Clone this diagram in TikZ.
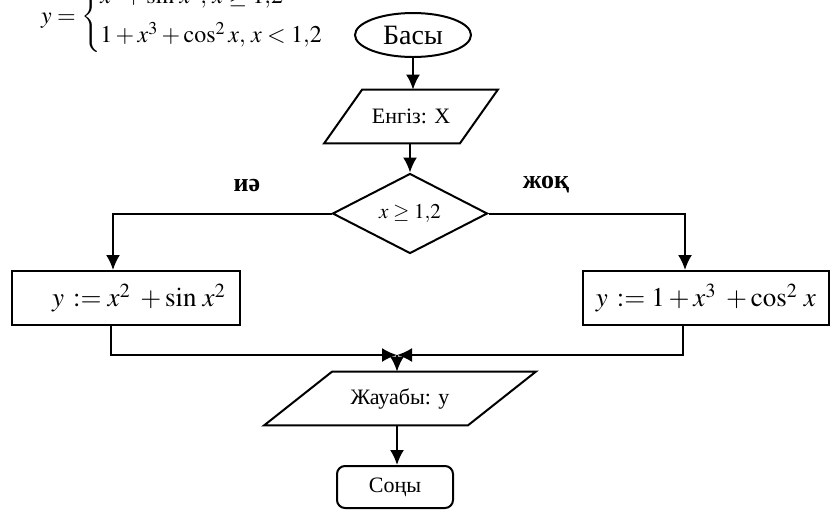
\documentclass[tikz,border=0pt]{standalone}
\usepackage{amsmath}
\usepackage{mathptmx}
\usepackage[no-math]{fontspec}
\setmainfont{Liberation Serif}
\usetikzlibrary{arrows.meta, positioning, shapes.geometric, calc}
\tikzset{%
	term/.style={draw, ellipse, line width=1pt, minimum width=58pt, minimum height=22pt,%
		inner sep=0pt, font=\fontsize{14}{16}\selectfont},
	io/.style={rectangle, minimum height=26.5pt, inner sep=0pt, font=\fontsize{11}{13}\selectfont},
	cond/.style={draw, diamond, line width=1pt, minimum width=77.5pt, minimum height=33.5pt,%
		inner sep=0pt, font=\fontsize{10.5}{12}\selectfont},
	proc/.style={draw, rectangle, line width=1pt, minimum height=27pt, inner sep=0pt,%
		font=\fontsize{13.5}{16}\selectfont},
	finish/.style={draw, rectangle, rounded corners=4pt, line width=1pt, minimum width=58pt,%
		minimum height=21pt, inner sep=0pt, font=\fontsize{11}{13}\selectfont},
	connector/.style={line width=1pt},
	flow/.style={-{Latex[length=7.5pt,width=7pt]}, line width=1pt},
	branch/.style={font=\bfseries\fontsize{13}{15}\selectfont}
}
\begin{document}
\begin{tikzpicture}[x=0.5pt, y=-0.5pt]
	\useasboundingbox (0,0) rectangle (830,510);

	\node[anchor=west, font=\fontsize{12}{14}\selectfont] (fn) at (34,17)
		{$y=\left\{\begin{array}{@{}l@{}} x^{2}+\sin\, x^{2},\, x\geq 1{,}2\\[5pt] 1+x^{3}+\cos^{2}x,\, x<1{,}2 \end{array}\right.$};

	\node[term] (start) at (413,35) {Басы};
	\node[io, minimum width=67.5pt] (in) at (411,116.5) {Енгіз: X};
	\node[cond] (dec) at (410,213.5) {$x\geq 1{,}2$};
	\node[branch] (yes) at (247,185) {иә};
	\node[branch] (no) at (546,185) {жоқ};
	\node[proc, minimum width=114pt] (yesbox) at (126,298)
		{\hspace*{13pt}$y\,:=x^{2}\;+\sin\, x^{2}$};
	\node[proc, minimum width=123pt] (nobox) at (706,298)
		{$y\,:=1+x^{3}\;+\cos^{2}\,x$};
	\node[io, minimum width=101.5pt] (out) at (400,398.5) {Жауабы: у};
	\node[finish] (fin) at (395,487) {Соңы};

	\coordinate (lc) at (113,213.5);
	\coordinate (rc) at (685,213.5);
	\coordinate (lb) at (111,355);
	\coordinate (rb) at (683,355);
	\coordinate (m)  at (397,355);

	% parallelograms
	\draw[connector] ([xshift=9.5pt]in.north west) -- ([xshift=9.5pt]in.north east)
		-- ([xshift=-9.5pt]in.south east) -- ([xshift=-9.5pt]in.south west) -- cycle;
	\draw[connector] ([xshift=17pt]out.north west) -- ([xshift=17pt]out.north east)
		-- ([xshift=-17pt]out.south east) -- ([xshift=-17pt]out.south west) -- cycle;

	\draw[flow] (start) -- (start |- in.north);
	\draw[flow] (dec |- in.south) -- (dec.north);
	\draw[flow] (dec.west) -- (lc) -- (lc |- yesbox.north);
	\draw[flow] (dec.east) -- (rc) -- (rc |- nobox.north);
	\draw[flow] (lb |- yesbox.south) -- (lb) -- (m);
	\draw[flow] (rb |- nobox.south) -- (rb) -- (m);
	\draw[flow] (m) -- (m |- out.north);
	\draw[flow] (m |- out.south) -- (m |- fin.north);

\end{tikzpicture}
\end{document}
